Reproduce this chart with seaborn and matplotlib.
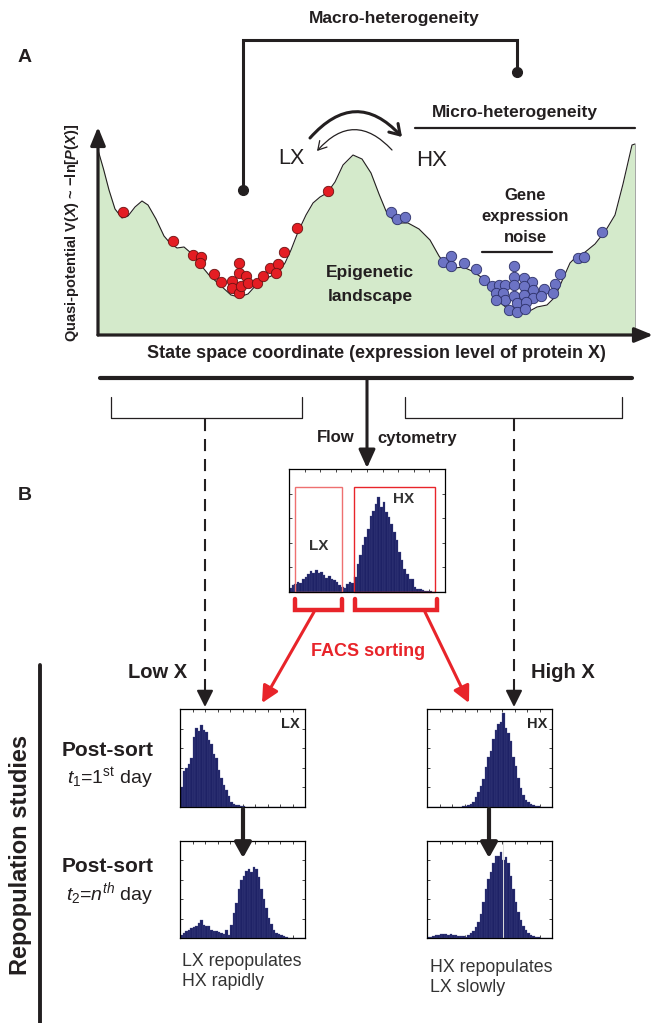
import numpy as np
import pandas as pd
import matplotlib
matplotlib.use('Agg')
import matplotlib.pyplot as plt
from matplotlib.patches import Rectangle
import seaborn as sns

sns.set_style('white')
plt.rcParams['font.family'] = ['Liberation Sans', 'DejaVu Sans']
plt.rcParams['mathtext.fontset'] = 'custom'
plt.rcParams['mathtext.rm'] = 'Liberation Sans'
plt.rcParams['mathtext.it'] = 'Liberation Sans:italic'
plt.rcParams['mathtext.bf'] = 'Liberation Sans:italic:bold'

# ---- data ----
# epigenetic landscape (state coordinate, quasi-potential)
LAND_X = [0, 5.5, 11, 17, 24, 30, 37, 44, 50, 58, 66, 72, 79, 86, 93, 101, 111, 122, 133, 141,
          150, 160, 171, 180, 187, 193, 200, 208, 215, 222, 229, 237, 245, 255, 264, 273, 281, 288, 295, 302,
          310, 321, 332, 341, 350, 357, 365, 374, 383, 393, 404, 417, 428, 439, 449, 457, 464, 472, 479, 486,
          497, 508, 517, 525, 534, 537]
LAND_V = [185, 166, 145, 126, 117, 119, 128, 134, 130, 116, 99, 92, 87, 88, 82, 72, 60, 50, 40, 38,
          41, 52, 58, 62, 72, 85, 103, 120, 132, 138, 142, 153, 170, 180, 176, 162, 141, 124, 115, 112,
          112, 106, 95, 79, 67, 67, 68, 64, 58, 46, 31, 20, 22, 28, 30, 38, 54, 72, 79, 82,
          91, 105, 120, 151, 190, 191]

# cells (LX = red, HX = blue)
LX_X = [25, 75, 95, 103, 102, 116, 123, 134, 141, 141, 148, 134, 141, 143, 150, 159, 165, 172, 180, 178, 186, 199, 230]
LX_V = [123, 94, 80, 78, 72, 61, 53, 54, 72, 62, 59, 47, 42, 49, 52, 52, 59, 67, 71, 62, 83, 107, 144]
HX_X = [293, 299, 307, 345, 353, 353, 366, 378, 386, 394, 401, 407, 398, 405, 416, 416, 426, 434, 416, 426,
        435, 446, 457, 462, 407, 416, 426, 435, 443, 455, 411, 419, 428, 419, 427, 398, 480, 486, 504]
HX_V = [123, 116, 118, 73, 79, 69, 72, 66, 55, 49, 50, 50, 42, 42, 69, 58, 57, 53, 50, 49,
        45, 46, 51, 61, 35, 39, 40, 37, 39, 42, 25, 32, 33, 23, 26, 35, 77, 78, 103]

# flow cytometry histograms (counts per bin)
FLOW = [12, 20, 25, 30, 28, 40, 45, 55, 62, 58, 65, 58, 60, 50, 42, 48, 40, 35, 30, 22,
        15, 12, 25, 30, 28, 45, 85, 110, 140, 165, 190, 230, 245, 265, 285, 255, 270, 240, 225, 205,
        180, 155, 120, 95, 70, 55, 40, 40, 15, 10, 8, 5, 4, 3, 2, 0, 0, 0, 0, 0]
LX_DAY1 = [60, 108, 118, 130, 148, 210, 238, 228, 246, 230, 224, 200, 188, 158, 146, 112, 88, 66, 52, 32,
           16, 10, 7, 5, 3, 2, 0, 0, 0, 0, 0, 0, 0, 0, 0, 0, 0, 0, 0, 0,
           0, 0, 0, 0, 0, 0, 0, 0, 0, 0]
LX_DAYN = [10, 15, 22, 25, 30, 32, 38, 45, 55, 40, 38, 35, 25, 22, 20, 18, 15, 12, 25, 10,
           40, 75, 105, 150, 175, 190, 205, 210, 200, 215, 210, 185, 150, 120, 90, 62, 42, 25, 16, 12,
           8, 5, 3, 1, 0, 0, 0, 0, 0, 0]
HX_DAY1 = [0, 0, 0, 0, 0, 0, 0, 0, 0, 0, 0, 0, 0, 1, 3, 4, 6, 8, 14, 30,
           45, 62, 85, 120, 150, 168, 205, 230, 248, 256, 282, 238, 222, 198, 150, 122, 88, 58, 35, 22,
           14, 8, 5, 3, 2, 0, 0, 0, 0, 0]
HX_DAYN = [3, 4, 6, 8, 10, 12, 13, 11, 10, 12, 9, 10, 7, 6, 5, 4, 8, 14, 20, 34,
           50, 74, 108, 148, 180, 200, 228, 248, 250, 262, 238, 246, 228, 190, 150, 110, 80, 55, 35, 24,
           15, 10, 5, 3, 2, 1, 0, 0, 0, 0]

W, H = 653, 1023
NAVY = '#1e2266'
RED = '#e8242a'
INK = '#231f20'

fig = plt.figure(figsize=(W / 100, H / 100), dpi=100)


def px_axes(x0, y0, x1, y1):
    return fig.add_axes([x0 / W, 1 - y1 / H, (x1 - x0) / W, (y1 - y0) / H])


def draw_hist(ax, counts, ymax, nx=9):
    n = len(counts)
    d = pd.DataFrame({'bin': np.arange(n) + 0.5, 'count': np.asarray(counts, dtype=float)})
    sns.histplot(data=d, x='bin', weights='count', binwidth=1, binrange=(0, n), color=NAVY, alpha=1,
                 edgecolor='#4a4f8a', linewidth=0.2, ax=ax)
    ax.set_xlim(0, n)
    ax.set_ylim(0, ymax)
    ax.set_xlabel('')
    ax.set_ylabel('')
    ax.set_xticks(np.linspace(0, n, nx + 1)[1:-1])
    ax.set_yticks(np.linspace(0, ymax, 6)[1:-1])
    ax.tick_params(direction='in', length=2.5, width=0.6, bottom=True, left=True, top=True, right=True,
                   labelbottom=False, labelleft=False)
    for s in ax.spines.values():
        s.set_visible(True)
        s.set_linewidth(0.9)
        s.set_color('k')


# ---- A: landscape ----
ax = px_axes(98, 128, 652, 335)
ax.fill_between(LAND_X, LAND_V, 0, color='#d4eacb', lw=0)
ax.plot(LAND_X, LAND_V, color=INK, lw=0.8)
ax.plot([LAND_X[-1], LAND_X[-1]], [0, LAND_V[-1]], color='#9a9a9a', lw=0.6)
sns.scatterplot(x=LX_X, y=LX_V, color='#e41d23', edgecolor='#6b1212', s=56, linewidth=0.6, ax=ax, zorder=3)
sns.scatterplot(x=HX_X, y=HX_V, color='#6c73c4', edgecolor='#2c3068', s=56, linewidth=0.6, ax=ax, zorder=3)
ax.set_xlim(0, 554)
ax.set_ylim(0, 207)
ax.axis('off')

# ---- B: histograms ----
hc = px_axes(289, 469, 445, 592)
draw_hist(hc, FLOW, 370, nx=10)
hc.add_patch(Rectangle((2.3, 0), 18.1, 0.855, transform=hc.get_xaxis_transform(),
                       fill=False, edgecolor='#ee7070', lw=1.0, clip_on=False))
hc.add_patch(Rectangle((25.0, 0), 31.2, 0.855, transform=hc.get_xaxis_transform(),
                       fill=False, edgecolor=RED, lw=1.0, clip_on=False))
hc.text(11.3, 0.37, 'LX', transform=hc.get_xaxis_transform(), ha='center', va='center',
        fontsize=11, fontweight='bold', color='#333333')
hc.text(44, 0.76, 'HX', transform=hc.get_xaxis_transform(), ha='center', va='center',
        fontsize=11, fontweight='bold', color='#333333')

h1 = px_axes(180, 709, 305, 807)
draw_hist(h1, LX_DAY1, 294, nx=10)
h1.text(0.96, 0.92, 'LX', transform=h1.transAxes, ha='right', va='top', fontsize=10.5, fontweight='bold')
h2 = px_axes(180, 841, 305, 938)
draw_hist(h2, LX_DAYN, 295, nx=10)
h3 = px_axes(427, 709, 552, 807)
draw_hist(h3, HX_DAY1, 294, nx=10)
h3.text(0.96, 0.92, 'HX', transform=h3.transAxes, ha='right', va='top', fontsize=10.5, fontweight='bold')
h4 = px_axes(427, 841, 552, 938)
draw_hist(h4, HX_DAYN, 295, nx=10)
h4.axvline(30.5, color='#dddddd', lw=0.7)

# ---- overlay annotations (pixel coordinates) ----
ov = fig.add_axes([0, 0, 1, 1])
ov.set_xlim(0, W)
ov.set_ylim(H, 0)
ov.axis('off')
ov.patch.set_alpha(0)


def arrow(p0, p1, lw, color=INK, hl=1.0, hw=0.5, style='-|>', rad=0.0, ms=10):
    ov.annotate('', xy=p1, xytext=p0,
                arrowprops=dict(arrowstyle=f'{style},head_length={hl},head_width={hw}', lw=lw, color=color,
                                shrinkA=0, shrinkB=0, mutation_scale=ms,
                                connectionstyle=f'arc3,rad={rad}'))


def txt(x, y, s, size, bold=True, ha='center', color=INK, **kw):
    ov.text(x, y, s, fontsize=size, fontweight='bold' if bold else 'normal', ha=ha, va='center',
            color=color, **kw)


# panel letters
txt(18, 58, 'A', 14, ha='left')
txt(18, 495, 'B', 14, ha='left')

# macro-heterogeneity bracket
txt(394, 18, 'Macro-heterogeneity', 12.5)
ov.plot([243, 243, 517, 517], [190, 40, 40, 72], color=INK, lw=2.2, solid_joinstyle='miter')
ov.plot([243, 517], [190, 72], 'o', color=INK, ms=7)

# micro-heterogeneity
txt(515, 112, 'Micro-heterogeneity', 12.5)
ov.plot([415, 635], [128, 128], color=INK, lw=1.6)

# transitions LX <-> HX
arrow((310, 138), (402, 137), 2.2, style='->', rad=-0.55, hl=0.7, hw=0.45)
arrow((392, 150), (317, 151), 0.9, style='->', rad=0.55, hl=0.6, hw=0.35)
txt(291, 158, 'LX', 15.5, bold=False)
txt(432, 160, 'HX', 16, bold=False)

# landscape texts
txt(525, 196, 'Gene', 12)
txt(525, 217, 'expression', 12)
txt(525, 237, 'noise', 12)
ov.plot([482, 552], [252, 252], color=INK, lw=1.6)
txt(370, 272, 'Epigenetic', 12.5)
txt(370, 297, 'landscape', 12.5)

# axes of landscape
arrow((98, 335), (98, 127), 2.3, hl=1.1, hw=0.45)
arrow((98, 335), (653, 335), 2.3, hl=1.1, hw=0.45)
txt(72, 233, 'Quasi-potential V($\\mathbf{X}$) ~ \u2212ln[$\\mathbf{P}$($\\mathbf{X}$)]', 10.5, rotation=90)
txt(376, 353, 'State space coordinate (expression level of protein X)', 13)

# flow cytometry connector
ov.plot([100, 632], [378, 378], color=INK, lw=3)
arrow((367, 378), (367, 468), 2.2, hl=1.1, hw=0.5)
ov.plot([111, 111, 302, 302], [397, 418, 418, 397], color=INK, lw=0.9)
ov.plot([405, 405, 622, 622], [397, 418, 418, 397], color=INK, lw=0.9)
txt(354, 438, 'Flow', 12, ha='right')
txt(377, 438, 'cytometry', 12, ha='left')

# dashed arrows down to low / high X
for xd in (205, 514):
    ov.plot([xd, xd], [419, 695], color=INK, lw=1.5, dashes=(5.8, 3.8))
    arrow((xd, 693), (xd, 707), 1.5, hl=1.0, hw=0.5)

# FACS sorting brackets and arrows
ov.plot([295, 295, 342, 342], [599, 610, 610, 599], color=RED, lw=3.2, solid_joinstyle='miter')
ov.plot([355, 355, 437, 437], [599, 610, 610, 599], color=RED, lw=3.2, solid_joinstyle='miter')
arrow((314, 612), (262, 703), 2.2, color=RED, hl=1.0, hw=0.5)
arrow((425, 612), (469, 703), 2.2, color=RED, hl=1.0, hw=0.5)
txt(368, 652, 'FACS sorting', 13, color=RED)

txt(158, 673, 'Low X', 14.5)
txt(563, 673, 'High X', 14.5)

# repopulation labels
ov.plot([40, 40], [665, 1023], color=INK, lw=2.8)
txt(21, 855, 'Repopulation studies', 17, rotation=90)
txt(108, 751, 'Post-sort', 15)
txt(110, 778, '$t_{\\mathit{1}}$=1$^{\\mathrm{st}}$ day', 14, bold=False)
txt(108, 867, 'Post-sort', 15)
txt(110, 894, '$t_{\\mathit{2}}$=$n^{th}$ day', 14, bold=False)

# step arrows between histograms
arrow((243, 809), (243, 858), 3.0, hl=0.9, hw=0.5)
arrow((489, 809), (489, 858), 3.0, hl=0.9, hw=0.5)

txt(182, 961, 'LX repopulates', 12.8, bold=False, ha='left', color='#333333')
txt(182, 981, 'HX rapidly', 12.8, bold=False, ha='left', color='#333333')
txt(430, 967, 'HX repopulates', 12.8, bold=False, ha='left', color='#333333')
txt(430, 987, 'LX slowly', 12.8, bold=False, ha='left', color='#333333')

fig.savefig('out.png', dpi=100)
